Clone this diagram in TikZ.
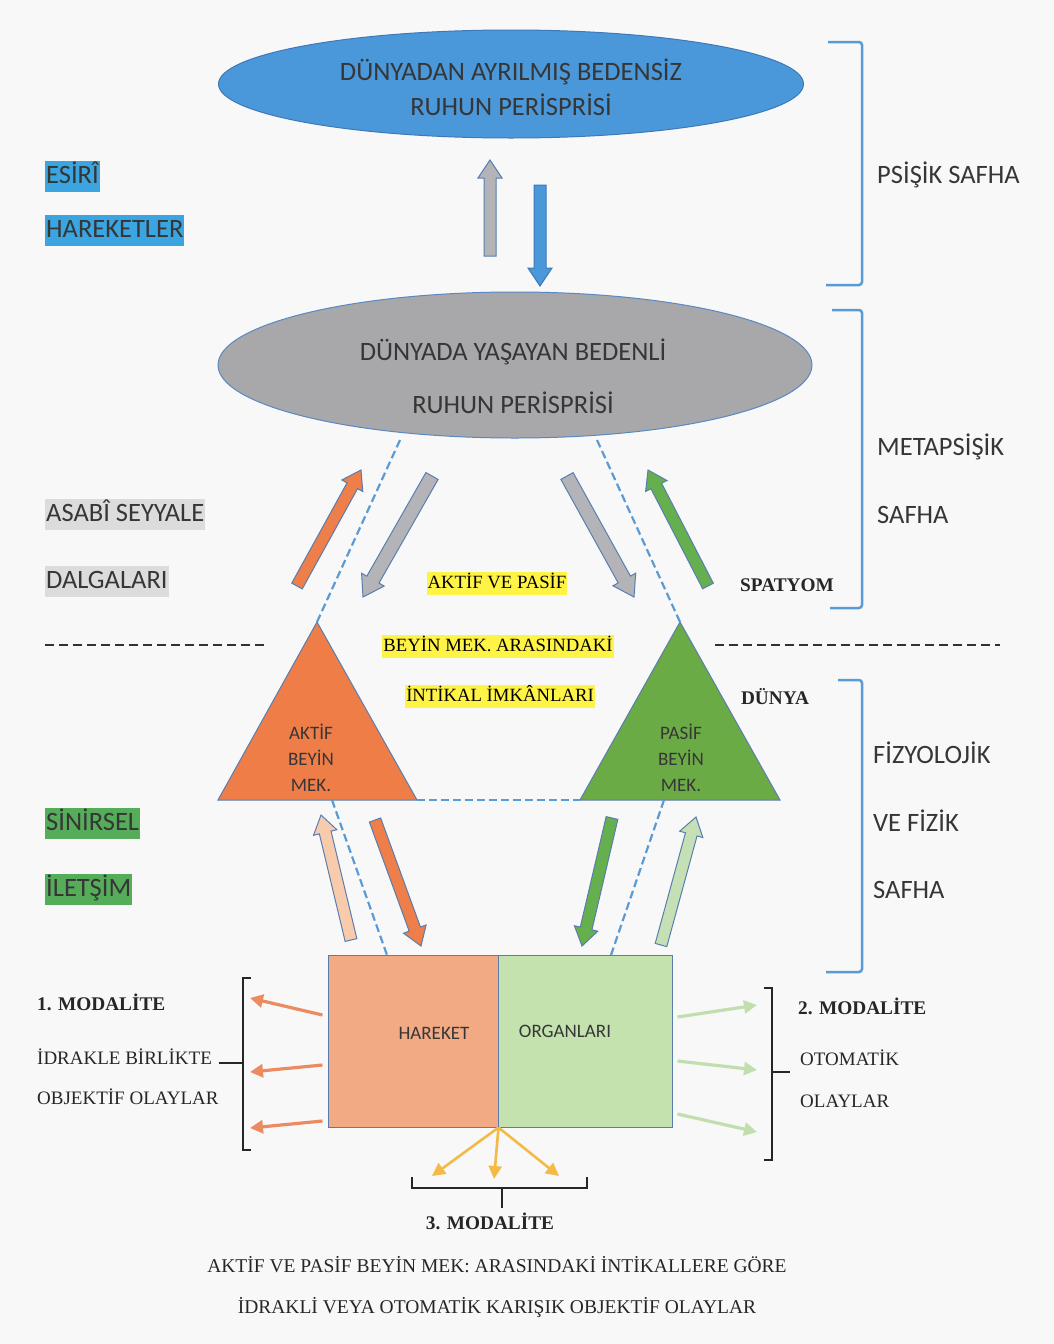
\documentclass[tikz,border=0pt]{standalone}
\usepackage{fontspec}
\setmainfont{Liberation Serif}
\setsansfont{Carlito}
\usetikzlibrary{calc,shapes.geometric,arrows.meta}
\definecolor{bgc}{HTML}{F8F8F8}
\definecolor{topblue}{HTML}{4A98DA}
\definecolor{topedge}{HTML}{3F78B8}
\definecolor{ellgrey}{HTML}{A8A8AA}
\definecolor{greyedge}{HTML}{5A88C2}
\definecolor{hlblue}{HTML}{3AA5E0}
\definecolor{hlgrey}{HTML}{DCDCDC}
\definecolor{hlgreen}{HTML}{55AD5A}
\definecolor{hlyellow}{HTML}{FFF345}
\definecolor{triorange}{HTML}{EE7D48}
\definecolor{trigreen}{HTML}{6AAB45}
\definecolor{arrorange}{HTML}{EE7E4A}
\definecolor{arrgreen}{HTML}{66AF4E}
\definecolor{arrpeach}{HTML}{F8CBAD}
\definecolor{arrlgreen}{HTML}{C5E0B4}
\definecolor{arrgrey}{HTML}{B4B4B8}
\definecolor{arrblue}{HTML}{4A98DA}
\definecolor{arredge}{HTML}{5A7DB0}
\definecolor{boxleft}{HTML}{F2AA84}
\definecolor{boxright}{HTML}{C3E2AE}
\definecolor{lineorange}{HTML}{EC8B60}
\definecolor{linegreen}{HTML}{C2DEAE}
\definecolor{lineyellow}{HTML}{F3BA45}
\definecolor{dashblue}{HTML}{5B9BD5}
\definecolor{brblue}{HTML}{5B9BD5}
\definecolor{txtgrey}{HTML}{363636}

\newcommand\blkarrow[6]{%
  \coordinate (bah) at ($(#3)!#6pt!(#2)$);
  \draw[#1] ($(#2)!#4pt!90:(#3)$) -- ($(bah)!#4pt!90:(#3)$) -- ($(bah)!#5pt!90:(#3)$) -- (#3) -- ($(bah)!#5pt!-90:(#3)$) -- ($(bah)!#4pt!-90:(#3)$) -- ($(#2)!#4pt!-90:(#3)$) -- cycle;}

\begin{document}
\begin{tikzpicture}[x=1pt,y=-1pt,
  sfL/.style={font=\sffamily\fontsize{26.5}{30}\selectfont, text=txtgrey, inner sep=0},
  sfS/.style={font=\sffamily\fontsize{19}{26}\selectfont, text=txtgrey, inner sep=0, align=center},
  hl/.style={font=\sffamily\fontsize{26.5}{30}\selectfont, text=txtgrey, inner xsep=1pt, inner ysep=3pt, text height=19pt, text depth=6pt, anchor=base west},
  yl/.style={font=\fontsize{18.7}{22}\selectfont, fill=hlyellow, inner xsep=1pt, inner ysep=2pt, text height=14pt, text depth=5pt, anchor=base},
  srf/.style={font=\fontsize{19}{22}\selectfont, text=black!85, inner sep=0, anchor=base west},
  srfb/.style={font=\bfseries\fontsize{19.3}{22}\selectfont, text=black!85, inner sep=0, anchor=base west},
  barrow/.style={draw=arredge, line width=1, line join=miter},
  dashb/.style={draw=dashblue, line width=2.2, dash pattern=on 8pt off 4pt},
  dashk/.style={draw=black!80, line width=2.2, dash pattern=on 9pt off 5pt},
  brb/.style={draw=brblue, line width=2.5, rounded corners=3},
  brk/.style={draw=black!85, line width=2.5},
  thin/.style={line width=3.2, -{Triangle[length=13pt,width=13pt]}}
]
\useasboundingbox (0,0) rectangle (1054,1344);
\fill[bgc] (0,0) rectangle (1054,1344);

% ellipses
\node[ellipse, fill=topblue, draw=topedge, line width=1, minimum width=585, minimum height=108, inner sep=0] (spirit) at (511,84) {};
\node[sfL, anchor=base] (spiritA) at (511,80) {DÜNYADAN AYRILMIŞ BEDENSİZ};
\node[sfL, anchor=base] (spiritB) at (511,115) {RUHUN PERİSPRİSİ};

\node[ellipse, fill=ellgrey, draw=greyedge, line width=1, minimum width=594, minimum height=146, inner sep=0] (living) at (515,365) {};
\node[sfL, anchor=base] (livingA) at (513,360) {DÜNYADA YAŞAYAN BEDENLİ};
\node[sfL, anchor=base] (livingB) at (513,413) {RUHUN PERİSPRİSİ};

% arrows between ellipses
\coordinate (u1s) at (490,256); \coordinate (u1e) at (490,160);
\coordinate (u2s) at (540,185); \coordinate (u2e) at (540,286);
\blkarrow{barrow, fill=arrgrey}{u1s}{u1e}{6}{12}{18}
\blkarrow{barrow, draw=topedge, fill=arrblue}{u2s}{u2e}{6}{12}{18}

% right blue brackets
\draw[brb] (828,42) -- (862,42) -- (862,285) -- (826,285);
\draw[brb] (832,310) -- (862,310) -- (862,608) -- (830,608);
\draw[brb] (838,680) -- (862,680) -- (862,972) -- (826,972);
\node[sfL, anchor=base west] (psi) at (877,183) {PSİŞİK SAFHA};
\node[sfL, anchor=base west] (metaA) at (877,455) {METAPSİŞİK};
\node[sfL, anchor=base west] (metaB) at (877,523) {SAFHA};
\node[sfL, anchor=base west] (fizA) at (873,763) {FİZYOLOJİK};
\node[sfL, anchor=base west] (fizB) at (873,831) {VE FİZİK};
\node[sfL, anchor=base west] (fizC) at (873,898) {SAFHA};

% left highlighted labels
\node[hl, fill=hlblue] (esA) at (45,183) {ESİRÎ};
\node[hl, fill=hlblue] (esB) at (45,237) {HAREKETLER};
\node[hl, fill=hlgrey] (asA) at (45,521) {ASABÎ SEYYALE};
\node[hl, fill=hlgrey] (asB) at (45,588) {DALGALARI};
\node[hl, fill=hlgreen] (snA) at (45,830) {SİNİRSEL};
\node[hl, fill=hlgreen] (snB) at (45,896) {İLETŞİM};

% black dashed separators
\coordinate (sepL1) at (45,645); \coordinate (sepL2) at (265,645);
\coordinate (sepR1) at (715,645); \coordinate (sepR2) at (1000,645);
\draw[dashk] (sepL1) -- (sepL2);
\draw[dashk] (sepR1) -- (sepR2);

% triangles
\coordinate (aTop) at (317,622); \coordinate (aL) at (218,800); \coordinate (aR) at (417,800);
\coordinate (pTop) at (680,622); \coordinate (pL) at (580,800); \coordinate (pR) at (780,800);
\draw[fill=triorange, draw=arredge, line width=1] (aTop) -- (aR) -- (aL) -- cycle;
\draw[fill=trigreen, draw=arredge, line width=1] (pTop) -- (pR) -- (pL) -- cycle;
\node[sfS] (aktif) at (311,758) {AKTİF\\BEYİN\\MEK.};
\node[sfS] (pasif) at (681,758) {PASİF\\BEYİN\\MEK.};

% box
\node[rectangle, fill=boxleft, draw=arredge, line width=1, minimum width=170, minimum height=172, inner sep=0] (hareket) at (413,1041) {};
\node[rectangle, fill=boxright, draw=arredge, line width=1, minimum width=174, minimum height=172, inner sep=0] (organ) at (585,1041) {};
\node[sfS] (harT) at (434,1033) {HAREKET};
\node[sfS] (orgT) at (565,1031) {ORGANLARI};

% blue dashed links
\coordinate (lvL) at (400,440); \coordinate (lvR) at (597,440);
\coordinate (aB) at (332,800); \coordinate (pB) at (664,800);
\coordinate (hT) at (387,955); \coordinate (oT) at (611,955);
\draw[dashb] (lvL) -- (aTop);
\draw[dashb] (lvR) -- (pTop);
\draw[dashb] (aR) -- (pL);
\draw[dashb] (aB) -- (hT);
\draw[dashb] (pB) -- (oT);

% middle block arrows
\coordinate (o1s) at (297,586); \coordinate (o1e) at (361,470);
\coordinate (g1s) at (432,476); \coordinate (g1e) at (363,597);
\coordinate (g2s) at (567,476); \coordinate (g2e) at (634,597);
\coordinate (gr1s) at (708,586); \coordinate (gr1e) at (648,470);
\blkarrow{barrow, fill=arrorange}{o1s}{o1e}{6}{12}{18}
\blkarrow{barrow, fill=arrgrey}{g1s}{g1e}{7}{13}{20}
\blkarrow{barrow, fill=arrgrey}{g2s}{g2e}{7}{13}{20}
\blkarrow{barrow, fill=arrgreen}{gr1s}{gr1e}{6}{12}{18}

% lower block arrows
\coordinate (p1s) at (351,940); \coordinate (p1e) at (321,815);
\coordinate (o2s) at (375,820); \coordinate (o2e) at (421,946);
\coordinate (g3s) at (612,818); \coordinate (g3e) at (582,946);
\coordinate (l1s) at (661,945); \coordinate (l1e) at (696,817);
\blkarrow{barrow, fill=arrpeach}{p1s}{p1e}{6}{12}{18}
\blkarrow{barrow, fill=arrorange}{o2s}{o2e}{6}{12}{18}
\blkarrow{barrow, fill=arrgreen}{g3s}{g3e}{6}{12}{18}
\blkarrow{barrow, fill=arrlgreen}{l1s}{l1e}{6}{12}{18}

% middle yellow texts
\node[yl] (y1) at (497,588) {AKTİF VE PASİF};
\node[yl] (y2) at (498,651) {BEYİN MEK. ARASINDAKİ};
\node[yl] (y3) at (500,701) {İNTİKAL İMKÂNLARI};
\node[srfb, anchor=base] (spat) at (787,591) {SPATYOM};
\node[srfb, anchor=base] (dunya) at (775,704) {DÜNYA};

% thin arrows out of the box
\coordinate (lo1) at (250,998); \coordinate (lo2) at (250,1072); \coordinate (lo3) at (250,1128);
\coordinate (ro1) at (757,1005); \coordinate (ro2) at (757,1070); \coordinate (ro3) at (757,1132);
\coordinate (yo1) at (432,1176); \coordinate (yo2) at (494,1179); \coordinate (yo3) at (559,1176);
\draw[thin, draw=lineorange, fill=lineorange] ($(hareket.west)+(-5,-26)$) -- (lo1);
\draw[thin, draw=lineorange, fill=lineorange] ($(hareket.west)+(-5,24)$) -- (lo2);
\draw[thin, draw=lineorange, fill=lineorange] ($(hareket.west)+(-5,80)$) -- (lo3);
\draw[thin, draw=linegreen, fill=linegreen] ($(organ.east)+(5,-24)$) -- (ro1);
\draw[thin, draw=linegreen, fill=linegreen] ($(organ.east)+(5,20)$) -- (ro2);
\draw[thin, draw=linegreen, fill=linegreen] ($(organ.east)+(5,73)$) -- (ro3);
\draw[thin, line width=2.6, draw=lineyellow, fill=lineyellow] (hareket.south east) -- (yo1);
\draw[thin, line width=2.6, draw=lineyellow, fill=lineyellow] (hareket.south east) -- (yo2);
\draw[thin, line width=2.6, draw=lineyellow, fill=lineyellow] (hareket.south east) -- (yo3);

% black brackets
\draw[brk] (251,978) -- (243,978) -- (243,1150) -- (251,1150);
\draw[brk] (243,1063) -- (219,1063);
\draw[brk] (764,988) -- (772,988) -- (772,1160) -- (764,1160);
\draw[brk] (772,1072) -- (790,1072);
\draw[brk] (412,1177) -- (412,1188) -- (587,1188) -- (587,1177);
\draw[brk] (502,1188) -- (502,1208);

% modality texts
\node[srfb] (m1) at (37,1010) {1. MODALİTE};
\node[srf] (m1a) at (37,1064) {İDRAKLE BİRLİKTE};
\node[srf] (m1b) at (37,1104) {OBJEKTİF OLAYLAR};
\node[srfb] (m2) at (798,1014) {2. MODALİTE};
\node[srf] (m2a) at (800,1065) {OTOMATİK};
\node[srf] (m2b) at (800,1107) {OLAYLAR};
\node[srfb, anchor=base] (m3) at (490,1229) {3. MODALİTE};
\node[srf, anchor=base, font=\fontsize{19.5}{22}\selectfont] (c1) at (497,1272) {AKTİF VE PASİF BEYİN MEK: ARASINDAKİ İNTİKALLERE GÖRE};
\node[srf, anchor=base, font=\fontsize{19.5}{22}\selectfont] (c2) at (497,1313) {İDRAKLİ VEYA OTOMATİK KARIŞIK OBJEKTİF OLAYLAR};
\end{tikzpicture}
\end{document}
